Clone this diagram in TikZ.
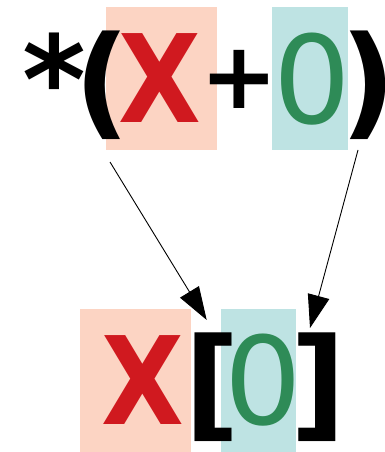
\documentclass[tikz,border=0pt]{standalone}
\usepackage{fontspec}
\usepackage{graphicx}
\setmainfont{DejaVu Sans}
\usetikzlibrary{arrows.meta}
\definecolor{salmonbg}{HTML}{FCD4C3}
\definecolor{tealbg}{HTML}{BEE3E3}
\definecolor{xred}{HTML}{D0191F}
\definecolor{zgreen}{HTML}{2E8B57}
\tikzset{
  glyph/.style={inner sep=0pt, outer sep=0pt, anchor=base, font=\fontsize{122}{140}\selectfont},
  bglyph/.style={glyph, font=\fontsize{122}{140}\selectfont\bfseries},
  cglyph/.style={glyph, anchor=center},
  link/.style={line width=0.9pt, -{Triangle[length=33pt,width=22pt]}}
}
\newcommand{\narrowX}{\scalebox{0.88}[1]{\bfseries X}}
\begin{document}
\begin{tikzpicture}[x=1pt,y=-1pt]
\useasboundingbox (0,0) rectangle (384,452);
% top row
\begin{scope}
\clip (0,0) rectangle (384,150);
\fill[salmonbg] (106,7) rectangle (217,150);
\fill[tealbg] (272,7) rectangle (348,150);
\node[bglyph] (ast) at (54,123) {*};
\node[bglyph] (lp) at (102,123) {(};
\node[cglyph, text=xred] (tx) at (160,78.5) {\narrowX};
\node[cglyph] (plus) at (239.5,79.5) {\scalebox{0.76}{\bfseries +}};
\node[cglyph, text=zgreen] (tz) at (312.5,79) {0};
\node[bglyph] (rp) at (368,123) {)};
\end{scope}
% bottom row
\fill[salmonbg] (80,309) rectangle (191,452);
\fill[tealbg] (221,309) rectangle (296,452);
\node[cglyph, text=xred] (bx) at (143,380.5) {\narrowX};
\node[bglyph] (lb) at (212,425) {[};
\node[cglyph, text=zgreen] (bz) at (263.5,380.5) {0};
\node[bglyph] (rb) at (318,425) {]};
% connectors
\coordinate (s1) at (110,162);
\coordinate (t1) at (206.7,320);
\coordinate (s2) at (358,150);
\coordinate (t2) at (310,328);
\draw[link] (s1) -- (t1);
\draw[link] (s2) -- (t2);
\end{tikzpicture}
\end{document}
